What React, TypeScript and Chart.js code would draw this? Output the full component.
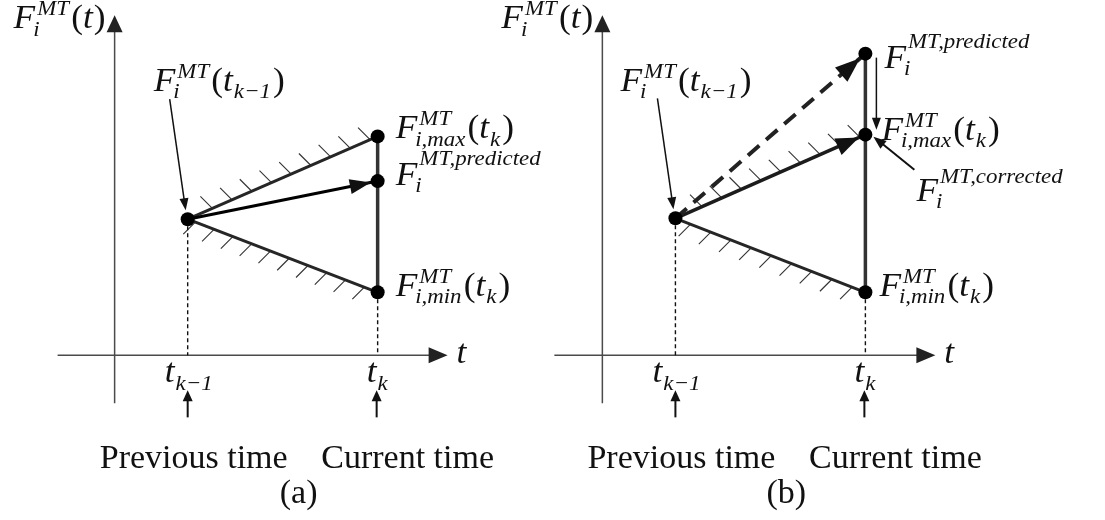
import React, { useEffect, useRef } from "react";
import { Chart, registerables } from "chart.js";

Chart.register(...registerables);

// ---------------- data ----------------
const panelTitles = ["(a)", "(b)"];
const timeValues = [1.0, 3.6]; // t_{k-1}, t_k
const tickSubscripts = ["k−1", "k"];
const timeCaptions = ["Previous time", "Current time"];
const prevValues = [3.11, 3.13]; // F_i^MT(t_{k-1})
const maxValues = [5.0, 5.04]; // F_{i,max}^MT(t_k)
const minValues = [1.44, 1.44]; // F_{i,min}^MT(t_k)
const predictedValues = [3.98, 6.89]; // F_i^{MT,predicted}
const correctedValues = [null, 5.04]; // F_i^{MT,corrected}

// ---------------- layout ----------------
const W = 1105;
const H = 520;
const ORIGIN_X = [109, 603];
const X_PER_UNIT = 74;
const AXIS_Y = 358;
const Y_PER_UNIT = 45;
const AXIS_LEFT = [57, 48];

const FONT = "'Liberation Serif', 'Times New Roman', serif";
const INK = "#111";
const MS = 34; // math font size
const MSX = 1.04; // math horizontal stretch

type Part = { b: string; it?: boolean; sup?: string; sub?: string; supUp?: number };

function drawMath(ctx: CanvasRenderingContext2D, x: number, y: number, parts: Part[], S = MS, sx = MSX) {
  ctx.save();
  ctx.translate(x, y);
  ctx.scale(sx, 1);
  ctx.fillStyle = INK;
  ctx.textAlign = "left";
  ctx.textBaseline = "alphabetic";
  const s = Math.round(S * 0.66);
  let cx = 0;
  for (const part of parts) {
    ctx.font = `${part.it ? "italic " : ""}${S}px ${FONT}`;
    ctx.fillText(part.b, cx, 0);
    cx += ctx.measureText(part.b).width + (part.it ? 1 : 0);
    let w = 0;
    ctx.font = `italic ${s}px ${FONT}`;
    if (part.sup) {
      ctx.fillText(part.sup, cx + 1, -S * 0.38 - (part.supUp || 0));
      w = Math.max(w, ctx.measureText(part.sup).width + 1);
    }
    if (part.sub) {
      const dx = part.sup ? -3 : 0;
      ctx.fillText(part.sub, cx + dx, S * 0.21);
      w = Math.max(w, ctx.measureText(part.sub).width + dx);
    }
    cx += w ? w + 2 : 0;
  }
  ctx.restore();
}

function drawText(ctx: CanvasRenderingContext2D, text: string, cx: number, y: number, S = 34, sx = 1.0) {
  ctx.save();
  ctx.font = `${S}px ${FONT}`;
  const w = ctx.measureText(text).width * sx;
  ctx.translate(cx - w / 2, y);
  ctx.scale(sx, 1);
  ctx.fillStyle = INK;
  ctx.textBaseline = "alphabetic";
  ctx.fillText(text, 0, 0);
  ctx.restore();
}

function head(ctx: CanvasRenderingContext2D, x1: number, y1: number, x2: number, y2: number, len: number, half: number, color: string) {
  const a = Math.atan2(y2 - y1, x2 - x1);
  const c = Math.cos(a);
  const s = Math.sin(a);
  ctx.save();
  ctx.fillStyle = color;
  ctx.beginPath();
  ctx.moveTo(x2, y2);
  ctx.lineTo(x2 - len * c + half * s, y2 - len * s - half * c);
  ctx.lineTo(x2 - len * c - half * s, y2 - len * s + half * c);
  ctx.closePath();
  ctx.fill();
  ctx.restore();
}

function thinArrow(ctx: CanvasRenderingContext2D, x1: number, y1: number, x2: number, y2: number, lw = 1.5, len = 12, half = 4.5, color = "#111") {
  const d = Math.hypot(x2 - x1, y2 - y1);
  const ux = (x2 - x1) / d;
  const uy = (y2 - y1) / d;
  ctx.save();
  ctx.strokeStyle = color;
  ctx.lineWidth = lw;
  ctx.beginPath();
  ctx.moveTo(x1, y1);
  ctx.lineTo(x2 - ux * (len - 2), y2 - uy * (len - 2));
  ctx.stroke();
  ctx.restore();
  head(ctx, x1, y1, x2, y2, len, half, color);
}

function hatch(ctx: CanvasRenderingContext2D, ax: number, ay: number, bx: number, by: number, n: number, f0: number, f1: number, dx: number, dy: number) {
  ctx.save();
  ctx.strokeStyle = "#333";
  ctx.lineWidth = 1.1;
  for (let i = 0; i < n; i++) {
    const f = f0 + ((f1 - f0) * i) / (n - 1);
    const x = ax + (bx - ax) * f;
    const y = ay + (by - ay) * f;
    ctx.beginPath();
    ctx.moveTo(x, y);
    ctx.lineTo(x + dx, y + dy);
    ctx.stroke();
  }
  ctx.restore();
}

const HATCH_UP = [
  [9, 0.13, 0.96],
  [9, 0.14, 0.97],
];
const HATCH_LOW = [
  [10, 0.04, 0.93],
  [9, 0.08, 0.93],
];
const LABEL_OFF = {
  prev: [[-34, -128], [-55, -127]],
  max: [[18, 2], [16, 5]],
  pred: [[18, 4], [19, 14]],
  min: [[18, 4], [14, 4]],
};

const diagramPlugin = {
  id: "diagram",
  beforeDatasetsDraw(chart: any) {
    const p: number = chart.options.plugins.diagram.panel;
    const ctx: CanvasRenderingContext2D = chart.ctx;
    const X = (v: number) => chart.scales.x.getPixelForValue(v);
    const Y = (v: number) => chart.scales.y.getPixelForValue(v);
    const ox = X(0);
    const oy = Y(0);
    ctx.save();
    ctx.strokeStyle = "#4a4a4a";
    ctx.lineWidth = 1.5;
    ctx.beginPath();
    ctx.moveTo(ox - AXIS_LEFT[p], oy);
    ctx.lineTo(ox + 318, oy);
    ctx.stroke();
    ctx.beginPath();
    ctx.moveTo(ox, oy + 48);
    ctx.lineTo(ox, oy - 325);
    ctx.stroke();
    ctx.restore();
    head(ctx, ox, oy, ox + 333, oy, 19, 8, "#222");
    head(ctx, ox, oy, ox, oy - 340, 17, 8, "#222");

    const x0 = X(timeValues[0]);
    const x1 = X(timeValues[1]);
    const yp = Y(prevValues[p]);
    const hu = HATCH_UP[p];
    const hl = HATCH_LOW[p];
    hatch(ctx, x0, yp, x1, Y(maxValues[p]), hu[0], hu[1], hu[2], -12, -12);
    hatch(ctx, x0, yp, x1, Y(minValues[p]), hl[0], hl[1], hl[2], -12, 12);
  },
  afterDatasetsDraw(chart: any) {
    const p: number = chart.options.plugins.diagram.panel;
    const ctx: CanvasRenderingContext2D = chart.ctx;
    const X = (v: number) => chart.scales.x.getPixelForValue(v);
    const Y = (v: number) => chart.scales.y.getPixelForValue(v);
    const ox = X(0);
    const oy = Y(0);
    const x0 = X(timeValues[0]);
    const x1 = X(timeValues[1]);
    const yPrev = Y(prevValues[p]);
    const yMax = Y(maxValues[p]);
    const yMin = Y(minValues[p]);
    const yPred = Y(predictedValues[p]);

    const tipTo = (tx: number, ty: number, len: number, half: number) => {
      const d = Math.hypot(tx - x0, ty - yPrev);
      const ux = (tx - x0) / d;
      const uy = (ty - yPrev) / d;
      head(ctx, x0, yPrev, tx - ux * 7, ty - uy * 7, len, half, "#111");
    };
    if (p === 0) {
      tipTo(x1, yPred, 21, 7.5);
    } else {
      tipTo(x1, yPred, 25, 9.5);
      const yc = Y(correctedValues[p] as number);
      tipTo(x1, yc, 23, 9);
      thinArrow(ctx, x1 + 11, yPred + 4, x1 + 11, yMax - 5, 1.5, 12, 4.5);
      thinArrow(ctx, x1 + 49, yc + 35, x1 + 8, yc + 2, 2, 13, 5);
      drawMath(ctx, x1 + 51, yc + 66, [{ b: "F", it: true, sup: "MT,corrected", sub: "i", supUp: 4.5 }]);
    }
    thinArrow(ctx, x0 - 18, yPrev - 120, x0 - 2, yPrev - 9, 1.5, 12, 4.5);

    const F = (sup: string, sub: string, supUp = 0): Part => ({ b: "F", it: true, sup, sub, supUp });
    drawMath(ctx, ox - 101, oy - 327, [F("MT", "i"), { b: "(" }, { b: "t", it: true }, { b: ")" }]);
    const lp = LABEL_OFF.prev[p];
    drawMath(ctx, x0 + lp[0], yPrev + lp[1], [F("MT", "i"), { b: "(" }, { b: "t", it: true, sub: tickSubscripts[0] }, { b: ")" }]);
    const lm = LABEL_OFF.max[p];
    drawMath(ctx, x1 + lm[0], yMax + lm[1], [F("MT", "i,max"), { b: "(" }, { b: "t", it: true, sub: tickSubscripts[1] }, { b: ")" }]);
    const ln = LABEL_OFF.min[p];
    drawMath(ctx, x1 + ln[0], yMin + ln[1], [F("MT", "i,min"), { b: "(" }, { b: "t", it: true, sub: tickSubscripts[1] }, { b: ")" }]);
    const lq = LABEL_OFF.pred[p];
    drawMath(ctx, x1 + lq[0], yPred + lq[1], [F("MT,predicted", "i", 7)]);

    drawMath(ctx, ox + 342, oy + 8, [{ b: "t", it: true }]);
    drawMath(ctx, x0 - 23, oy + 27, [{ b: "t", it: true, sub: tickSubscripts[0] }]);
    drawMath(ctx, x1 - 11, oy + 27, [{ b: "t", it: true, sub: tickSubscripts[1] }]);
    thinArrow(ctx, x0, oy + 62, x0, oy + 35, 2, 11, 5);
    thinArrow(ctx, x1 - 1, oy + 62, x1 - 1, oy + 35, 2, 11, 5);
    drawText(ctx, timeCaptions[0], x0 + 6, oy + 113);
    drawText(ctx, timeCaptions[1], x1 + 30, oy + 113);
    drawText(ctx, panelTitles[p], ox + 184, oy + 148);
  },
};

function makeConfig(p: number): any {
  const tp = timeValues[0];
  const tc = timeValues[1];
  const prev = { x: tp, y: prevValues[p] };
  const mx = { x: tc, y: maxValues[p] };
  const mn = { x: tc, y: minValues[p] };
  const pr = { x: tc, y: predictedValues[p] };
  const line = (data: any[], extra: any) => ({
    data,
    showLine: true,
    pointRadius: 0,
    borderColor: "#262626",
    borderWidth: 3,
    borderCapStyle: "butt",
    tension: 0,
    fill: false,
    ...extra,
  });
  return {
    type: "scatter",
    data: {
      datasets: [
        {
          label: "points",
          data: [prev, mx, pr, mn],
          showLine: false,
          pointRadius: 7,
          pointBackgroundColor: "#000",
          pointBorderWidth: 0,
        },
        p === 0
          ? line([prev, pr], { label: "predicted", borderColor: "#000", borderWidth: 3 })
          : line([prev, pr], { label: "predicted", borderColor: "#222", borderWidth: 4, borderDash: [15, 9] }),
        line([prev, mx], { label: "upper bound", borderWidth: p === 0 ? 3 : 3.5, borderColor: p === 0 ? "#262626" : "#1c1c1c" }),
        line([prev, mn], { label: "lower bound" }),
        line([p === 0 ? mx : pr, mn], { label: "range", borderWidth: 3.5, borderColor: "#333" }),
        line([prev, { x: tp, y: 0 }], { label: "drop prev", borderWidth: 1.4, borderColor: "#111", borderDash: [4, 3] }),
        line([mn, { x: tc, y: 0 }], { label: "drop curr", borderWidth: 1.4, borderColor: "#111", borderDash: [4, 3] }),
      ],
    },
    options: {
      responsive: false,
      maintainAspectRatio: false,
      animation: false,
      devicePixelRatio: 1,
      events: [],
      layout: { padding: 0 },
      scales: {
        x: {
          type: "linear",
          display: false,
          min: -ORIGIN_X[p] / X_PER_UNIT,
          max: (W - ORIGIN_X[p]) / X_PER_UNIT,
        },
        y: {
          type: "linear",
          display: false,
          min: -(H - AXIS_Y) / Y_PER_UNIT,
          max: AXIS_Y / Y_PER_UNIT,
        },
      },
      plugins: {
        legend: { display: false },
        tooltip: { enabled: false },
        diagram: { panel: p },
      },
    },
    plugins: [diagramPlugin],
  };
}

function Panel({ p }: { p: number }) {
  const ref = useRef<HTMLCanvasElement>(null);
  useEffect(() => {
    const chart = new Chart(ref.current as HTMLCanvasElement, makeConfig(p));
    return () => chart.destroy();
  }, [p]);
  return (
    <canvas
      ref={ref}
      width={W}
      height={H}
      style={{ position: "absolute", left: 0, top: 0, width: W, height: H }}
    />
  );
}

export default function App() {
  return (
    <div style={{ position: "absolute", left: 0, top: 0, width: W, height: H, background: "#fff", overflow: "hidden" }}>
      <Panel p={0} />
      <Panel p={1} />
    </div>
  );
}
